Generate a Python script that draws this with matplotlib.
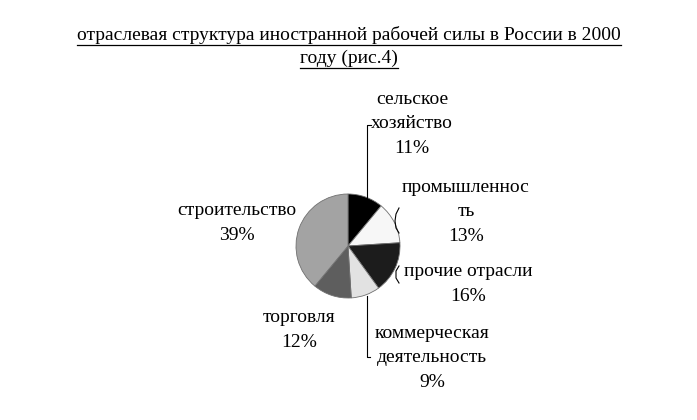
import matplotlib
matplotlib.use("Agg")
from matplotlib import pyplot as plt
from matplotlib.lines import Line2D

# Data
sectors = ['сельское\nхозяйство', 'промышленнос\nть', 'прочие отрасли',
           'коммерческая\nдеятельность', 'торговля', 'строительство']
shares = [11, 13, 16, 9, 12, 39]
colors = ['#000000', '#f7f7f7', '#1c1c1c', '#e2e2e2', '#5e5e5e', '#a3a3a3']
title_lines = ['отраслевая структура иностранной рабочей силы в России в 2000',
               'году (рис.4)']

W, H = 697, 420
plt.rcParams['font.family'] = ['Liberation Serif', 'DejaVu Serif']

fig = plt.figure(figsize=(W / 100, H / 100), dpi=100)


def px(x, y):
    # pixel position (from top-left) to figure fraction
    return x / W, 1 - y / H


# Pie placed at centre (348, 246), radius 52 px
cx, cy, r = 348, 246, 52
ax = fig.add_axes([(cx - r) / W, (H - cy - r) / H, 2 * r / W, 2 * r / H])
ax.pie(shares, colors=colors, startangle=90, counterclock=False, radius=1,
       wedgeprops=dict(edgecolor='#707070', linewidth=0.6))
ax.set_xlim(-1, 1)
ax.set_ylim(-1, 1)
ax.set_aspect('equal')
ax.axis('off')

# Labels with percentages
label_pos = [(412, 124), (466, 212), (468, 284), (432, 358), (299, 330), (237, 223)]
fs = 14
for name, val, (x, y) in zip(sectors, shares, label_pos):
    fig.text(*px(x, y), f'{name}\n{val}%', ha='center', va='center',
             fontsize=fs, linespacing=1.56)

# Leader lines
def line(xs, ys):
    fig.add_artist(Line2D([x / W for x in xs], [1 - y / H for y in ys],
                          color='black', linewidth=0.8))

line([371, 367, 367, 350], [125, 125, 200, 200])
line([367, 367, 370], [296, 357, 357])
line([399, 396, 395, 396, 399], [208, 214, 221, 228, 233])
line([399, 396, 396, 399], [266, 271, 278, 283])

# Title, underlined line by line
fig.canvas.draw()
renderer = fig.canvas.get_renderer()
for txt, y in zip(title_lines, [35, 58]):
    t = fig.text(*px(349, y), txt, ha='center', va='center', fontsize=fs)
    bb = t.get_window_extent(renderer)
    uy = 1 - (y + 10) / H
    fig.add_artist(Line2D([bb.x0 / W, bb.x1 / W], [uy, uy],
                          color='black', linewidth=0.9))

fig.savefig('out.png', dpi=100)
